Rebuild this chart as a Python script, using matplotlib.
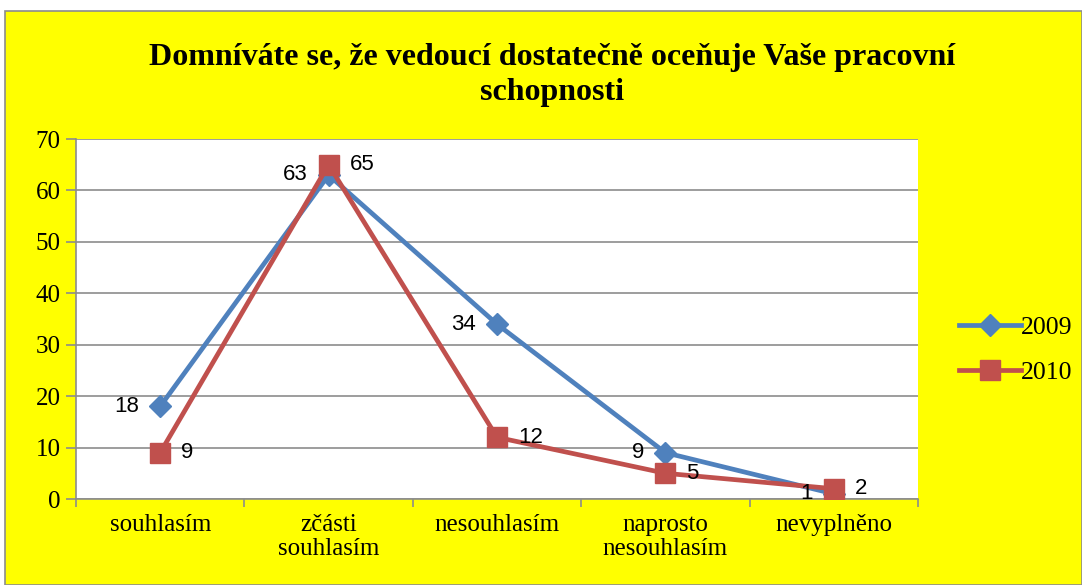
import matplotlib
matplotlib.use("Agg")
import matplotlib.pyplot as plt
from matplotlib.patches import Rectangle
import numpy as np

categories = ["souhlasím", "zčásti\nsouhlasím", "nesouhlasím", "naprosto\nnesouhlasím", "nevyplněno"]
series_names = ["2009", "2010"]
values_2009 = [18, 63, 34, 9, 1]
values_2010 = [9, 65, 12, 5, 2]
title = "Domníváte se, že vedoucí dostatečně oceňuje Vaše pracovní\nschopnosti"

W, H = 1082, 585
fig = plt.figure(figsize=(W / 100, H / 100), dpi=100, facecolor="white")
bg = Rectangle((5 / W, 0), 1 - 5 / W, 1 - 11 / H, transform=fig.transFigure,
               facecolor="#FFFF00", edgecolor="#8C8C8C", linewidth=1.2, zorder=-10)
fig.add_artist(bg)

left, right, top, bottom = 76, 918, 139, 499
ax = fig.add_axes([left / W, 1 - bottom / H, (right - left) / W, (bottom - top) / H])
ax.set_facecolor("white")

x = np.arange(len(categories))
blue, red = "#4F81BD", "#C0504D"
ax.plot(x, values_2009, color=blue, lw=3.4, marker="D", ms=11, mec=blue, mfc=blue, label=series_names[0], zorder=3)
ax.plot(x, values_2010, color=red, lw=3.4, marker="s", ms=14, mec=red, mfc=red, label=series_names[1], zorder=4)

for xi, v in zip(x, values_2009):
    ax.annotate(str(v), (xi, v), xytext=(-15, 0), textcoords="offset points", ha="right", va="center",
                fontsize=16, family="Liberation Sans", zorder=5)
for xi, v in zip(x, values_2010):
    ax.annotate(str(v), (xi, v), xytext=(15, 0), textcoords="offset points", ha="left", va="center",
                fontsize=16, family="Liberation Sans", zorder=5)

ax.set_xlim(-0.5, len(categories) - 0.5)
ax.set_ylim(0, 70)
ax.set_yticks(range(0, 71, 10))
ax.yaxis.grid(True, color="#8C8C8C", lw=1.2)
ax.set_axisbelow(True)
ax.set_xticks(x)
ax.set_xticklabels(categories, family="Liberation Serif", fontsize=18, linespacing=1.1)
ax.set_xticks(np.arange(-0.5, len(categories), 1), minor=True)
ax.tick_params(axis="x", which="major", length=0, pad=11)
ax.tick_params(axis="x", which="minor", length=6, color="#8C8C8C", width=1.2)
ax.tick_params(axis="y", length=7, color="#8C8C8C", width=1.2, pad=4)
for lab in ax.get_yticklabels():
    lab.set_family("Liberation Serif")
    lab.set_fontsize(18)
for s in ["top", "right"]:
    ax.spines[s].set_visible(False)
for s in ["left", "bottom"]:
    ax.spines[s].set_color("#8C8C8C")
    ax.spines[s].set_linewidth(1.2)

fig.text(552 / W, 1 - 75 / H, title, ha="center", va="center", family="Liberation Serif",
         fontweight="bold", fontsize=23, linespacing=1.25)

leg = fig.legend(loc="center left", bbox_to_anchor=(936 / W, 1 - 350 / H), frameon=False,
                 prop={"family": "Liberation Serif", "size": 18.5}, handlelength=2.4,
                 handletextpad=0.0, labelspacing=0.85)

fig.savefig("out.png", dpi=100, facecolor=fig.get_facecolor())
